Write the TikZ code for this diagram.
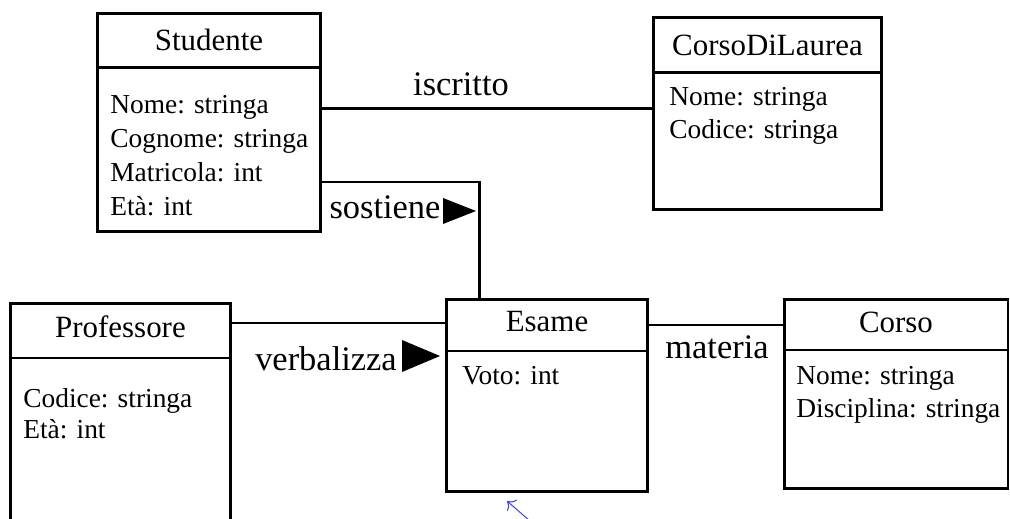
\documentclass[tikz,border=0pt]{standalone}
\usepackage{fontspec}
\setmainfont{Liberation Serif}
\usetikzlibrary{arrows.meta}
\definecolor{puntatore}{RGB}{70,70,225}

\begin{document}
\begin{tikzpicture}[
    x=0.02cm, y=-0.02cm,
    classbox/.style={draw, line width=1.7pt, inner sep=0pt},
    divider/.style={line width=1.7pt},
    title/.style={font=\fontsize{17.6}{21}\selectfont},
    attrs/.style={anchor=north west, inner sep=0pt, align=left, font=\fontsize{15.6}{18.9}\selectfont},
    assoc/.style={line width=1.7pt},
    assoclabel/.style={anchor=base, inner sep=0pt, font=\fontsize{19.6}{23}\selectfont},
    verso/.style={fill=black}
]

\useasboundingbox (0,0) rectangle (1010,519);
\clip (0,0) rectangle (1010,519);

% Studente
\node[classbox, minimum width=4.48cm, minimum height=4.38cm] (stud) at (209,122.5) {};
\node[title] (stud-t) at (209,40) {Studente};
\draw[divider] (stud.west |- 0,68) -- (stud.east |- 0,68);
\node[attrs, font=\fontsize{15.6}{19.3}\selectfont] (stud-a) at (110,95) {Nome: stringa\\Cognome: stringa\\Matricola: int\\Età: int};

% CorsoDiLaurea
\node[classbox, minimum width=4.58cm, minimum height=3.86cm] (cdl) at (767.5,113.5) {};
\node[title] (cdl-t) at (767.5,45) {CorsoDiLaurea};
\draw[divider] (cdl.west |- 0,73) -- (cdl.east |- 0,73);
\node[attrs] (cdl-a) at (669,87) {Nome: stringa\\Codice: stringa};

% Esame
\node[classbox, minimum width=4.04cm, minimum height=3.86cm] (esame) at (547,395.5) {};
\node[title] (esame-t) at (547,322) {Esame};
\draw[divider] (esame.west |- 0,351) -- (esame.east |- 0,351);
\node[attrs] (esame-a) at (462,366) {Voto: int};

% Corso
\node[classbox, minimum width=4.48cm, minimum height=3.8cm] (corso) at (896,394) {};
\node[title] (corso-t) at (896,322) {Corso};
\draw[divider] (corso.west |- 0,350) -- (corso.east |- 0,350);
\node[attrs] (corso-a) at (796,366) {Nome: stringa\\Disciplina: stringa};

% Professore
\node[classbox, minimum width=4.42cm, minimum height=4.54cm] (prof) at (120.5,416.5) {};
\node[title] (prof-t) at (120.5,327) {Professore};
\draw[divider] (prof.west |- 0,358) -- (prof.east |- 0,358);
\node[attrs, font=\fontsize{15.6}{17.6}\selectfont] (prof-a) at (23,388) {Codice: stringa\\Età: int};

% Associazioni
\draw[assoc] (stud.east |- 0,109) -- (cdl.west |- 0,109);
\node[assoclabel] (iscr) at (461,96) {iscritto};

\draw[assoc] (stud.east |- 0,182) -| (479,0 |- esame.north);
\node[assoclabel] (sost) at (385,219) {sostiene};
\fill[verso] (443,198) -- (476,211) -- (443,224) -- cycle;

\draw[assoc] (prof.east |- 0,323) -- (esame.west |- 0,323);
\node[assoclabel] (verb) at (326,371) {verbalizza};
\fill[verso] (402,340) -- (440,356) -- (402,372) -- cycle;

\draw[assoc] (esame.east |- 0,325) -- (corso.west |- 0,325);
\node[assoclabel] (mat) at (717,359) {materia};

% Puntatore
\coordinate (p-coda) at (530,521);
\coordinate (p-punta) at (507,501);
\draw[puntatore, line width=0.6pt, -{To[length=4pt]}] (p-coda) -- (p-punta);

\end{tikzpicture}
\end{document}
